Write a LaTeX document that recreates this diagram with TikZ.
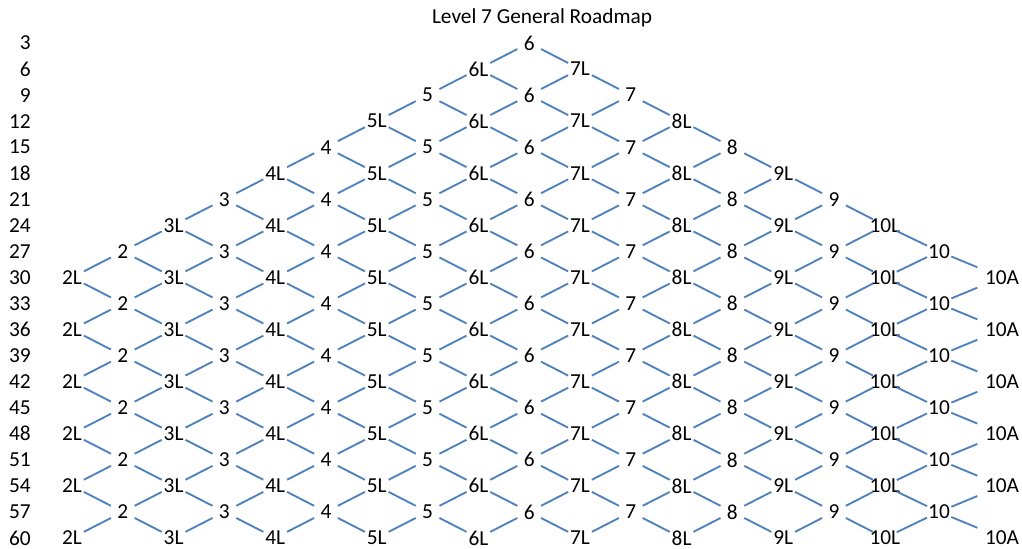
\documentclass[tikz,border=0pt]{standalone}
\usepackage{fontspec}
\setmainfont{Carlito}
\usepackage{tikz}
\usetikzlibrary{positioning}
\definecolor{roadblue}{RGB}{79,129,189}

\begin{document}
\begin{tikzpicture}[x=0.75pt, y=-0.75pt, font=\fontsize{16}{19}\selectfont,
    lvl/.style={inner sep=0pt},
    link/.style={roadblue, line width=1.4pt}]
                \useasboundingbox (0,0) rectangle (1022,549);
                \node[lvl, anchor=base] (title) at (542,24) {Level 7 General Roadmap};
                
                \foreach \r in {1,...,20} {
                    \pgfmathtruncatemacro{\val}{3*\r}
                    \node[lvl, anchor=east] (row\r) at (31, {43+26.05*(\r-1)}) {\val};
                    \foreach \j in {0,...,18} {
                        \pgfmathtruncatemacro{\ok}{and(iseven(\r+\j), abs(\j-9)<=\r-1)}
                        \ifnum\ok=1
                            \pgfmathsetmacro{\cx}{(\j<17)*(72+50.8*\j) + (\j==17)*939 + (\j==18)*1002}
                            \pgfmathtruncatemacro{\num}{\j/2+2}
                            \ifodd\j
                                \def\lab{\num}
                            \else
                                \ifnum\j=18 \def\lab{10A}\else \def\lab{\num L}\fi
                            \fi
                            \node[lvl] (n-\r-\j) at (\cx, {43+26.05*(\r-1)}) {\lab};
                        \fi
                    }
                }
                
                \foreach \r in {1,...,19} {
                    \foreach \j in {0,...,18} {
                        \pgfmathtruncatemacro{\ok}{and(iseven(\r+\j), abs(\j-9)<=\r-1)}
                        \ifnum\ok=1
                            \pgfmathtruncatemacro{\nr}{\r+1}
                            \pgfmathtruncatemacro{\jl}{\j-1}
                            \pgfmathtruncatemacro{\jr}{\j+1}
                            \def\sa{10pt}\ifnum\j=18 \def\sa{20pt}\fi
                            \def\sb{10pt}\ifnum\jr=18 \def\sb{20pt}\fi
                            \ifnum\j>0
                                \draw[link, shorten <=\sa, shorten >=10pt] (n-\r-\j.center) -- (n-\nr-\jl.center);
                            \fi
                            \ifnum\j<18
                                \draw[link, shorten <=10pt, shorten >=\sb] (n-\r-\j.center) -- (n-\nr-\jr.center);
                            \fi
                        \fi
                    }
                }
\end{tikzpicture}
\end{document}
